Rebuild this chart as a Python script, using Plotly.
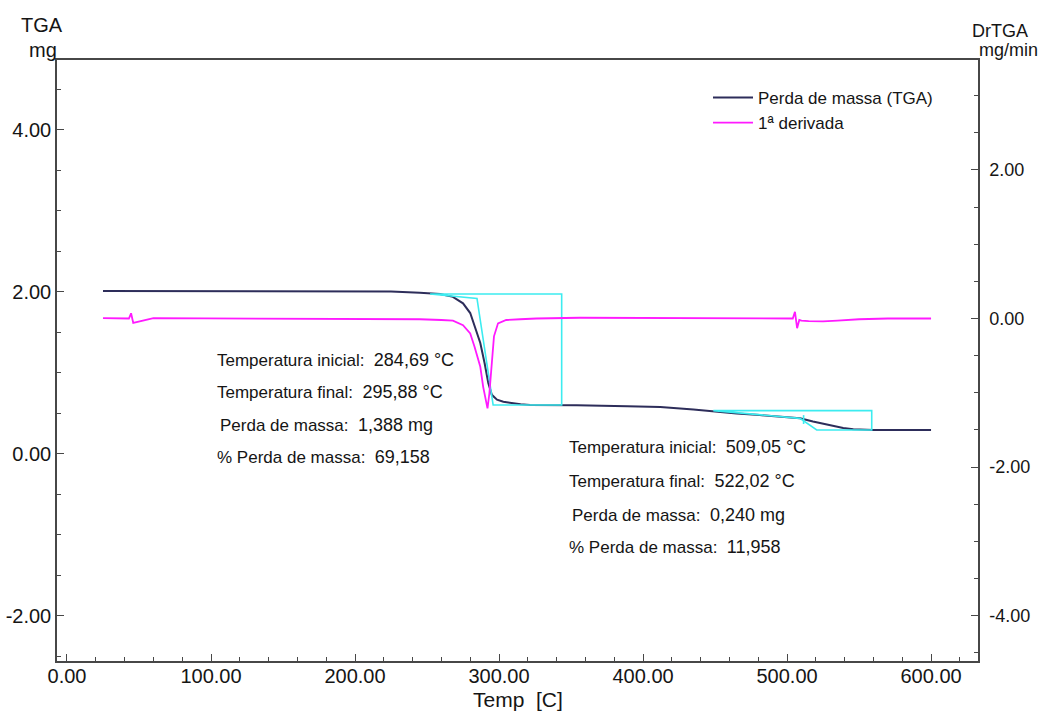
import plotly.graph_objects as go

# ---------------- data ----------------
tga_temp = [25, 60, 100, 140, 180, 200, 225, 245, 259, 268, 275, 280, 283.3, 287, 290,
            292.5, 295, 298.6, 303, 307.6, 315, 321.5, 337.5, 354, 389, 412, 435, 449,
            465, 481, 495, 509, 518, 528, 539, 546, 560, 580, 600]
tga_mass = [2.012, 2.012, 2.010, 2.010, 2.012, 2.012, 2.005, 1.99, 1.975, 1.94, 1.86, 1.74,
            1.57, 1.37, 1.12, 0.88, 0.73, 0.67, 0.645, 0.63, 0.615, 0.605, 0.605, 0.603,
            0.59, 0.58, 0.55, 0.525, 0.50, 0.48, 0.46, 0.44, 0.40, 0.36, 0.32, 0.305,
            0.296, 0.296, 0.295]

dtg_temp = [25, 40, 43, 44.5, 46, 60, 100, 150, 200, 245, 260, 268, 275, 280, 283, 287,
            289, 290.7, 292, 293.3, 295, 296.5, 299.3, 305, 314.6, 326, 356, 400, 450,
            500, 504, 505.5, 507, 508.5, 510, 515, 525, 535, 550, 570, 600]
dtg_val = [0.005, 0.005, 0.0, 0.07, -0.06, 0.005, 0.003, 0.0, 0.0, -0.01, -0.02, -0.03,
           -0.09, -0.2, -0.38, -0.65, -0.92, -1.10, -1.21, -1.01, -0.60, -0.24, -0.065,
           -0.02, -0.01, 0.0, 0.01, 0.005, 0.0, -0.005, 0.0, 0.09, -0.13, -0.02, -0.03,
           -0.035, -0.04, -0.03, -0.01, 0.0, 0.0]

step1_temp = [252.1, 343.5, 343.5, 295.9, 284.7, 252.1]
step1_mass = [1.975, 1.975, 0.605, 0.605, 1.92, 1.975]
step2_temp = [448.8, 558.8, 558.8, 520.6, 509.0, 448.8]
step2_mass = [0.535, 0.535, 0.296, 0.296, 0.44, 0.535]
mark2_temp = [511.5, 511.5]
mark2_mass = [0.48, 0.37]

x_ticks = [0, 100, 200, 300, 400, 500, 600]
x_labels = ["0.00", "100.00", "200.00", "300.00", "400.00", "500.00", "600.00"]
y_ticks = [-2, 0, 2, 4]
y_labels = ["-2.00", "0.00", "2.00", "4.00"]
y2_ticks = [-4, -2, 0, 2]
y2_labels = ["-4.00", "-2.00", "0.00", "2.00"]

result1_names = ["Temperatura inicial:", "Temperatura final:", "Perda de massa:", "% Perda de massa:"]
result1_values = ["284,69 °C", "295,88 °C", "1,388 mg", "69,158"]
result2_names = ["Temperatura inicial:", "Temperatura final:", "Perda de massa:", "% Perda de massa:"]
result2_values = ["509,05 °C", "522,02 °C", "0,240 mg", "11,958"]

# ---------------- figure ----------------
W, H = 1040, 711
L, R, T, B = 57, 978, 60, 661
FONT = "Liberation Sans, Arial, sans-serif"


def pxx(x):
    return (x - L) / (R - L)


def pxy(y):
    return (B - y) / (B - T)


fig = go.Figure()
fig.add_trace(go.Scatter(x=tga_temp, y=tga_mass, mode="lines", name="Perda de massa (TGA)",
                         line=dict(color="#2d2d5a", width=2), legendgroup="a"))
fig.add_trace(go.Scatter(x=dtg_temp, y=dtg_val, mode="lines", name="1ª derivada",
                         line=dict(color="#ff1aff", width=1.8), yaxis="y2", legendgroup="b"))
for xs, ys in [(step1_temp, step1_mass), (step2_temp, step2_mass), (mark2_temp, mark2_mass)]:
    fig.add_trace(go.Scatter(x=xs, y=ys, mode="lines", showlegend=False,
                             line=dict(color="#3cecf0", width=1.6), hoverinfo="skip"))

annots = []
g1 = [(215, 360), (215, 392), (218, 425), (215, 457)]
g2 = [(567, 447), (567, 481), (570, 515), (567, 547)]
rows = list(zip(result1_names, result1_values, g1)) + list(zip(result2_names, result2_values, g2))
for name, val, (x, y) in rows:
    txt = name + "\u00a0 <span style='font-size:18px'>" + val + "</span>"
    annots.append(dict(text=txt, x=pxx(x), y=pxy(y), xref="paper", yref="paper",
                       xanchor="left", yanchor="middle", showarrow=False,
                       font=dict(size=17, color="#151515", family=FONT)))
for txt, x, y, s in [("TGA", 42, 25, 20), ("mg", 43, 50, 20),
                     ("DrTGA", 1000, 31, 18), ("mg/min", 1008, 50, 18),
                     ("Temp\u00a0 [C]", 518, 699, 21)]:
    annots.append(dict(text=txt, x=pxx(x), y=pxy(y), xref="paper", yref="paper",
                       xanchor="center", yanchor="middle", showarrow=False,
                       font=dict(size=s, color="#151515", family=FONT)))

axcol = "#474747"
fig.update_layout(
    width=W, height=H,
    margin=dict(l=L, r=W - R, t=T, b=H - B, pad=0, autoexpand=False),
    paper_bgcolor="white", plot_bgcolor="white",
    font=dict(family=FONT, color="#151515"),
    showlegend=True,
    legend=dict(x=pxx(708), y=pxy(80), xanchor="left", yanchor="top", itemwidth=40,
                font=dict(size=17, color="#151515", family=FONT),
                bgcolor="rgba(0,0,0,0)", tracegroupgap=0),
    annotations=annots,
    xaxis=dict(range=[-6.94, 632.6], tickvals=x_ticks, ticktext=x_labels,
               ticks="inside", ticklen=7, tickwidth=1.2, tickcolor=axcol,
               minor=dict(dtick=20, tick0=0, ticks="inside", ticklen=4, tickcolor=axcol, tickwidth=1.2),
               showline=True, linecolor=axcol, linewidth=1.5, mirror=True,
               showgrid=False, zeroline=False, ticklabelstandoff=-4, automargin=False,
               tickfont=dict(size=20, color="#151515", family=FONT)),
    yaxis=dict(range=[-2.556, 4.864], tickvals=y_ticks, ticktext=y_labels,
               ticks="inside", ticklen=7, tickwidth=1.2, tickcolor=axcol,
               minor=dict(dtick=0.5, tick0=0, ticks="inside", ticklen=4, tickcolor=axcol, tickwidth=1.2),
               showline=True, linecolor=axcol, linewidth=1.5, mirror=True,
               showgrid=False, zeroline=False, automargin=False,
               tickfont=dict(size=20, color="#151515", family=FONT)),
    yaxis2=dict(range=[-4.611, 3.48], tickvals=y2_ticks, ticktext=y2_labels, overlaying="y",
                side="right", anchor="x",
                ticks="inside", ticklen=7, tickwidth=1.2, tickcolor=axcol,
                minor=dict(dtick=0.5, tick0=0, ticks="inside", ticklen=4, tickcolor=axcol, tickwidth=1.2),
                showline=True, linecolor=axcol, linewidth=1.5, automargin=False,
                showgrid=False, zeroline=False, ticklabelstandoff=6,
                tickfont=dict(size=18, color="#151515", family=FONT)),
)

fig.write_html("out.html", config={"displayModeBar": False},
               post_script="document.body.style.margin='0px';")
